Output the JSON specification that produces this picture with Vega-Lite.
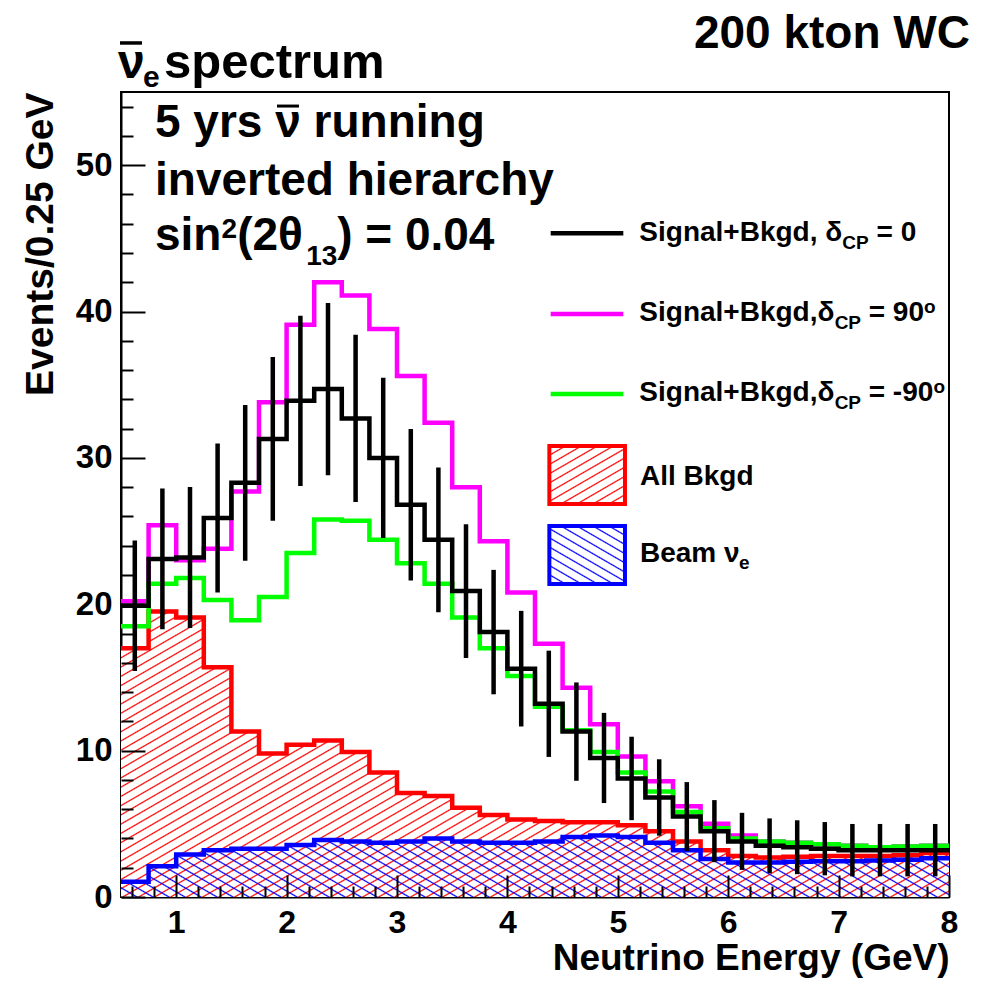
{
"$schema":"https://vega.github.io/schema/vega-lite/v6.json",
"width":828,"height":805,
"autosize":{"type":"none"},
"padding":{"left":121,"top":92,"right":39,"bottom":84},
"background":"#ffffff",
"config":{
 "view":{"stroke":"#000000","strokeWidth":2},
 "axis":{"grid":false,"domainColor":"#000000","domainWidth":2,"tickColor":"#000000","tickWidth":2,"labelFont":"Liberation Sans","labelFontWeight":"bold","labelColor":"#000000","titleFont":"Liberation Sans","titleFontWeight":"bold","titleColor":"#000000","labelOverlap":false,"labelFlush":false},
 "text":{"font":"Liberation Sans","fontWeight":"bold","color":"#000000","align":"left","baseline":"alphabetic"}
},
"resolve":{"axis":{"x":"independent","y":"independent"}},
"datasets":{
 "h":[
{"E":0.5,"s0":19.9,"s90":20.2,"sm90":18.5,"bkg":17.0,"beam":1.05},
{"E":0.75,"s0":23.1,"s90":25.4,"sm90":21.4,"bkg":19.5,"beam":2.1},
{"E":1.0,"s0":23.2,"s90":23.0,"sm90":21.8,"bkg":19.1,"beam":2.9},
{"E":1.25,"s0":25.9,"s90":23.8,"sm90":20.3,"bkg":15.7,"beam":3.2},
{"E":1.5,"s0":28.3,"s90":27.7,"sm90":18.9,"bkg":11.3,"beam":3.3},
{"E":1.75,"s0":31.3,"s90":33.8,"sm90":20.5,"bkg":9.8,"beam":3.3},
{"E":2.0,"s0":33.9,"s90":39.1,"sm90":23.5,"bkg":10.4,"beam":3.55},
{"E":2.25,"s0":34.7,"s90":42.0,"sm90":25.8,"bkg":10.7,"beam":3.9},
{"E":2.5,"s0":32.7,"s90":41.1,"sm90":25.7,"bkg":9.9,"beam":3.8},
{"E":2.75,"s0":30.0,"s90":38.8,"sm90":24.4,"bkg":8.5,"beam":3.7},
{"E":3.0,"s0":26.8,"s90":35.6,"sm90":22.8,"bkg":7.1,"beam":3.8},
{"E":3.25,"s0":24.4,"s90":32.4,"sm90":21.4,"bkg":6.9,"beam":4.0},
{"E":3.5,"s0":20.9,"s90":28.0,"sm90":19.1,"bkg":6.1,"beam":3.8},
{"E":3.75,"s0":18.1,"s90":24.3,"sm90":17.0,"bkg":5.6,"beam":3.7},
{"E":4.0,"s0":15.6,"s90":20.8,"sm90":15.1,"bkg":5.3,"beam":3.7},
{"E":4.25,"s0":13.2,"s90":17.3,"sm90":13.0,"bkg":5.2,"beam":3.8},
{"E":4.5,"s0":11.3,"s90":14.3,"sm90":11.4,"bkg":5.1,"beam":4.1},
{"E":4.75,"s0":9.5,"s90":11.8,"sm90":9.9,"bkg":5.1,"beam":4.2},
{"E":5.0,"s0":8.1,"s90":9.6,"sm90":8.5,"bkg":4.9,"beam":4.1},
{"E":5.25,"s0":6.8,"s90":7.9,"sm90":7.2,"bkg":4.5,"beam":3.7},
{"E":5.5,"s0":5.5,"s90":6.2,"sm90":5.8,"bkg":3.8,"beam":3.2},
{"E":5.75,"s0":4.5,"s90":5.0,"sm90":4.7,"bkg":3.2,"beam":2.6},
{"E":6.0,"s0":3.8,"s90":4.2,"sm90":4.0,"bkg":2.8,"beam":2.35},
{"E":6.25,"s0":3.5,"s90":3.8,"sm90":3.8,"bkg":2.7,"beam":2.35},
{"E":6.5,"s0":3.4,"s90":3.7,"sm90":3.7,"bkg":2.75,"beam":2.4},
{"E":6.75,"s0":3.3,"s90":3.6,"sm90":3.6,"bkg":2.8,"beam":2.45},
{"E":7.0,"s0":3.2,"s90":3.5,"sm90":3.5,"bkg":2.8,"beam":2.45},
{"E":7.25,"s0":3.2,"s90":3.4,"sm90":3.4,"bkg":2.8,"beam":2.5},
{"E":7.5,"s0":3.2,"s90":3.45,"sm90":3.45,"bkg":2.85,"beam":2.55},
{"E":7.75,"s0":3.2,"s90":3.5,"sm90":3.5,"bkg":3.0,"beam":2.65},
{"E":8.0,"s0":3.2,"s90":3.5,"sm90":3.5,"bkg":3.0,"beam":2.65}
 ],
 "err":[
{"Ec":0.625,"lo":15.44,"hi":24.36},{"Ec":0.875,"lo":18.29,"hi":27.91},{"Ec":1.125,"lo":18.38,"hi":28.02},{"Ec":1.375,"lo":20.81,"hi":30.99},
{"Ec":1.625,"lo":22.98,"hi":33.62},{"Ec":1.875,"lo":25.71,"hi":36.89},{"Ec":2.125,"lo":28.08,"hi":39.72},{"Ec":2.375,"lo":28.81,"hi":40.59},
{"Ec":2.625,"lo":26.98,"hi":38.42},{"Ec":2.875,"lo":24.52,"hi":35.48},{"Ec":3.125,"lo":21.62,"hi":31.98},{"Ec":3.375,"lo":19.46,"hi":29.34},
{"Ec":3.625,"lo":16.33,"hi":25.47},{"Ec":3.875,"lo":13.85,"hi":22.35},{"Ec":4.125,"lo":11.65,"hi":19.55},{"Ec":4.375,"lo":9.57,"hi":16.83},
{"Ec":4.625,"lo":7.94,"hi":14.66},{"Ec":4.875,"lo":6.42,"hi":12.58},{"Ec":5.125,"lo":5.25,"hi":10.95},{"Ec":5.375,"lo":4.19,"hi":9.41},
{"Ec":5.625,"lo":3.15,"hi":7.85},{"Ec":5.875,"lo":2.38,"hi":6.62},{"Ec":6.125,"lo":1.85,"hi":5.75},{"Ec":6.375,"lo":1.63,"hi":5.37},
{"Ec":6.625,"lo":1.56,"hi":5.24},{"Ec":6.875,"lo":1.48,"hi":5.12},{"Ec":7.125,"lo":1.41,"hi":4.99},{"Ec":7.375,"lo":1.41,"hi":4.99},
{"Ec":7.625,"lo":1.41,"hi":4.99},{"Ec":7.875,"lo":1.41,"hi":4.99}
 ],
 "one":[{}]
},
"layer":[
{"data":{"name":"h"},
 "mark":{"type":"area","interpolate":"step-after","fill":{"gradient":"linear","x1":0,"y1":0,"x2":1.4246,"y2":0.8505,"stops":[
{"offset":0,"color":"#f00"},{"offset":0.0015,"color":"#fff"},{"offset":0.0085,"color":"#fff"},
{"offset":0.01,"color":"#f00"},{"offset":0.0115,"color":"#fff"},{"offset":0.0185,"color":"#fff"},
{"offset":0.02,"color":"#f00"},{"offset":0.0215,"color":"#fff"},{"offset":0.0285,"color":"#fff"},
{"offset":0.03,"color":"#f00"},{"offset":0.0315,"color":"#fff"},{"offset":0.0385,"color":"#fff"},
{"offset":0.04,"color":"#f00"},{"offset":0.0415,"color":"#fff"},{"offset":0.0485,"color":"#fff"},
{"offset":0.05,"color":"#f00"},{"offset":0.0515,"color":"#fff"},{"offset":0.0585,"color":"#fff"},
{"offset":0.06,"color":"#f00"},{"offset":0.0615,"color":"#fff"},{"offset":0.0685,"color":"#fff"},
{"offset":0.07,"color":"#f00"},{"offset":0.0715,"color":"#fff"},{"offset":0.0785,"color":"#fff"},
{"offset":0.08,"color":"#f00"},{"offset":0.0815,"color":"#fff"},{"offset":0.0885,"color":"#fff"},
{"offset":0.09,"color":"#f00"},{"offset":0.0915,"color":"#fff"},{"offset":0.0985,"color":"#fff"},
{"offset":0.10,"color":"#f00"},{"offset":0.1015,"color":"#fff"},{"offset":0.1085,"color":"#fff"},
{"offset":0.11,"color":"#f00"},{"offset":0.1115,"color":"#fff"},{"offset":0.1185,"color":"#fff"},
{"offset":0.12,"color":"#f00"},{"offset":0.1215,"color":"#fff"},{"offset":0.1285,"color":"#fff"},
{"offset":0.13,"color":"#f00"},{"offset":0.1315,"color":"#fff"},{"offset":0.1385,"color":"#fff"},
{"offset":0.14,"color":"#f00"},{"offset":0.1415,"color":"#fff"},{"offset":0.1485,"color":"#fff"},
{"offset":0.15,"color":"#f00"},{"offset":0.1515,"color":"#fff"},{"offset":0.1585,"color":"#fff"},
{"offset":0.16,"color":"#f00"},{"offset":0.1615,"color":"#fff"},{"offset":0.1685,"color":"#fff"},
{"offset":0.17,"color":"#f00"},{"offset":0.1715,"color":"#fff"},{"offset":0.1785,"color":"#fff"},
{"offset":0.18,"color":"#f00"},{"offset":0.1815,"color":"#fff"},{"offset":0.1885,"color":"#fff"},
{"offset":0.19,"color":"#f00"},{"offset":0.1915,"color":"#fff"},{"offset":0.1985,"color":"#fff"},
{"offset":0.20,"color":"#f00"},{"offset":0.2015,"color":"#fff"},{"offset":0.2085,"color":"#fff"},
{"offset":0.21,"color":"#f00"},{"offset":0.2115,"color":"#fff"},{"offset":0.2185,"color":"#fff"},
{"offset":0.22,"color":"#f00"},{"offset":0.2215,"color":"#fff"},{"offset":0.2285,"color":"#fff"},
{"offset":0.23,"color":"#f00"},{"offset":0.2315,"color":"#fff"},{"offset":0.2385,"color":"#fff"},
{"offset":0.24,"color":"#f00"},{"offset":0.2415,"color":"#fff"},{"offset":0.2485,"color":"#fff"},
{"offset":0.25,"color":"#f00"},{"offset":0.2515,"color":"#fff"},{"offset":0.2585,"color":"#fff"},
{"offset":0.26,"color":"#f00"},{"offset":0.2615,"color":"#fff"},{"offset":0.2685,"color":"#fff"},
{"offset":0.27,"color":"#f00"},{"offset":0.2715,"color":"#fff"},{"offset":0.2785,"color":"#fff"},
{"offset":0.28,"color":"#f00"},{"offset":0.2815,"color":"#fff"},{"offset":0.2885,"color":"#fff"},
{"offset":0.29,"color":"#f00"},{"offset":0.2915,"color":"#fff"},{"offset":0.2985,"color":"#fff"},
{"offset":0.30,"color":"#f00"},{"offset":0.3015,"color":"#fff"},{"offset":0.3085,"color":"#fff"},
{"offset":0.31,"color":"#f00"},{"offset":0.3115,"color":"#fff"},{"offset":0.3185,"color":"#fff"},
{"offset":0.32,"color":"#f00"},{"offset":0.3215,"color":"#fff"},{"offset":0.3285,"color":"#fff"},
{"offset":0.33,"color":"#f00"},{"offset":0.3315,"color":"#fff"},{"offset":0.3385,"color":"#fff"},
{"offset":0.34,"color":"#f00"},{"offset":0.3415,"color":"#fff"},{"offset":0.3485,"color":"#fff"},
{"offset":0.35,"color":"#f00"},{"offset":0.3515,"color":"#fff"},{"offset":0.3585,"color":"#fff"},
{"offset":0.36,"color":"#f00"},{"offset":0.3615,"color":"#fff"},{"offset":0.3685,"color":"#fff"},
{"offset":0.37,"color":"#f00"},{"offset":0.3715,"color":"#fff"},{"offset":0.3785,"color":"#fff"},
{"offset":0.38,"color":"#f00"},{"offset":0.3815,"color":"#fff"},{"offset":0.3885,"color":"#fff"},
{"offset":0.39,"color":"#f00"},{"offset":0.3915,"color":"#fff"},{"offset":0.3985,"color":"#fff"},
{"offset":0.40,"color":"#f00"},{"offset":0.4015,"color":"#fff"},{"offset":0.4085,"color":"#fff"},
{"offset":0.41,"color":"#f00"},{"offset":0.4115,"color":"#fff"},{"offset":0.4185,"color":"#fff"},
{"offset":0.42,"color":"#f00"},{"offset":0.4215,"color":"#fff"},{"offset":0.4285,"color":"#fff"},
{"offset":0.43,"color":"#f00"},{"offset":0.4315,"color":"#fff"},{"offset":0.4385,"color":"#fff"},
{"offset":0.44,"color":"#f00"},{"offset":0.4415,"color":"#fff"},{"offset":0.4485,"color":"#fff"},
{"offset":0.45,"color":"#f00"},{"offset":0.4515,"color":"#fff"},{"offset":0.4585,"color":"#fff"},
{"offset":0.46,"color":"#f00"},{"offset":0.4615,"color":"#fff"},{"offset":0.4685,"color":"#fff"},
{"offset":0.47,"color":"#f00"},{"offset":0.4715,"color":"#fff"},{"offset":0.4785,"color":"#fff"},
{"offset":0.48,"color":"#f00"},{"offset":0.4815,"color":"#fff"},{"offset":0.4885,"color":"#fff"},
{"offset":0.49,"color":"#f00"},{"offset":0.4915,"color":"#fff"},{"offset":0.4985,"color":"#fff"},
{"offset":0.50,"color":"#f00"},{"offset":0.5015,"color":"#fff"},{"offset":0.5085,"color":"#fff"},
{"offset":0.51,"color":"#f00"},{"offset":0.5115,"color":"#fff"},{"offset":0.5185,"color":"#fff"},
{"offset":0.52,"color":"#f00"},{"offset":0.5215,"color":"#fff"},{"offset":0.5285,"color":"#fff"},
{"offset":0.53,"color":"#f00"},{"offset":0.5315,"color":"#fff"},{"offset":0.5385,"color":"#fff"},
{"offset":0.54,"color":"#f00"},{"offset":0.5415,"color":"#fff"},{"offset":0.5485,"color":"#fff"},
{"offset":0.55,"color":"#f00"},{"offset":0.5515,"color":"#fff"},{"offset":0.5585,"color":"#fff"},
{"offset":0.56,"color":"#f00"},{"offset":0.5615,"color":"#fff"},{"offset":0.5685,"color":"#fff"},
{"offset":0.57,"color":"#f00"},{"offset":0.5715,"color":"#fff"},{"offset":0.5785,"color":"#fff"},
{"offset":0.58,"color":"#f00"},{"offset":0.5815,"color":"#fff"},{"offset":0.5885,"color":"#fff"},
{"offset":0.59,"color":"#f00"},{"offset":0.5915,"color":"#fff"},{"offset":0.5985,"color":"#fff"},
{"offset":0.60,"color":"#f00"},{"offset":0.6015,"color":"#fff"},{"offset":0.6085,"color":"#fff"},
{"offset":0.61,"color":"#f00"},{"offset":0.6115,"color":"#fff"},{"offset":0.6185,"color":"#fff"},
{"offset":0.62,"color":"#f00"},{"offset":0.6215,"color":"#fff"},{"offset":0.6285,"color":"#fff"},
{"offset":0.63,"color":"#f00"},{"offset":0.6315,"color":"#fff"},{"offset":0.6385,"color":"#fff"},
{"offset":0.64,"color":"#f00"},{"offset":0.6415,"color":"#fff"},{"offset":0.6485,"color":"#fff"},
{"offset":0.65,"color":"#f00"},{"offset":0.6515,"color":"#fff"},{"offset":0.6585,"color":"#fff"},
{"offset":0.66,"color":"#f00"},{"offset":0.6615,"color":"#fff"},{"offset":0.6685,"color":"#fff"},
{"offset":0.67,"color":"#f00"},{"offset":0.6715,"color":"#fff"},{"offset":0.6785,"color":"#fff"},
{"offset":0.68,"color":"#f00"},{"offset":0.6815,"color":"#fff"},{"offset":0.6885,"color":"#fff"},
{"offset":0.69,"color":"#f00"},{"offset":0.6915,"color":"#fff"},{"offset":0.6985,"color":"#fff"},
{"offset":0.70,"color":"#f00"},{"offset":0.7015,"color":"#fff"},{"offset":0.7085,"color":"#fff"},
{"offset":0.71,"color":"#f00"},{"offset":0.7115,"color":"#fff"},{"offset":0.7185,"color":"#fff"},
{"offset":0.72,"color":"#f00"},{"offset":0.7215,"color":"#fff"},{"offset":0.7285,"color":"#fff"},
{"offset":0.73,"color":"#f00"},{"offset":0.7315,"color":"#fff"},{"offset":0.7385,"color":"#fff"},
{"offset":0.74,"color":"#f00"},{"offset":0.7415,"color":"#fff"},{"offset":0.7485,"color":"#fff"},
{"offset":0.75,"color":"#f00"},{"offset":0.7515,"color":"#fff"},{"offset":0.7585,"color":"#fff"},
{"offset":0.76,"color":"#f00"},{"offset":0.7615,"color":"#fff"},{"offset":0.7685,"color":"#fff"},
{"offset":0.77,"color":"#f00"},{"offset":0.7715,"color":"#fff"},{"offset":0.7785,"color":"#fff"},
{"offset":0.78,"color":"#f00"},{"offset":0.7815,"color":"#fff"},{"offset":0.7885,"color":"#fff"},
{"offset":0.79,"color":"#f00"},{"offset":0.7915,"color":"#fff"},{"offset":0.7985,"color":"#fff"},
{"offset":0.80,"color":"#f00"},{"offset":0.8015,"color":"#fff"},{"offset":0.8085,"color":"#fff"},
{"offset":0.81,"color":"#f00"},{"offset":0.8115,"color":"#fff"},{"offset":0.8185,"color":"#fff"},
{"offset":0.82,"color":"#f00"},{"offset":0.8215,"color":"#fff"},{"offset":0.8285,"color":"#fff"},
{"offset":0.83,"color":"#f00"},{"offset":0.8315,"color":"#fff"}
 ]}},
 "encoding":{
  "x":{"field":"E","type":"quantitative","scale":{"domain":[0.5,8],"nice":false,"zero":false},
   "axis":{"orient":"bottom","title":"Neutrino Energy (GeV)","titleFontSize":37,"titleAnchor":"end","titlePadding":2,
    "values":[1,2,3,4,5,6,7,8],"format":"d","labelFontSize":32,"labelPadding":10,"ticks":false,"tickSize":0}},
  "y":{"field":"bkg","type":"quantitative","scale":{"domain":[0,55],"nice":false,"zero":false},
   "axis":{"orient":"left","title":"Events/0.25 GeV","titleFontSize":39,"titleAnchor":"end","titlePadding":15,
    "values":[0,10,20,30,40,50],"format":"d","labelFontSize":33,"labelPadding":9,"ticks":false,"tickSize":0}}
 }},
{"data":{"name":"h"},
 "mark":{"type":"area","interpolate":"step-after","fill":{"gradient":"linear","x1":0,"y1":1,"x2":1.9009,"y2":0.75546,"stops":[
{"offset":0,"color":"#00f"},{"offset":0.0015,"color":"rgba(0,0,255,0)"},{"offset":0.0085,"color":"rgba(0,0,255,0)"},
{"offset":0.01,"color":"#00f"},{"offset":0.0115,"color":"rgba(0,0,255,0)"},{"offset":0.0185,"color":"rgba(0,0,255,0)"},
{"offset":0.02,"color":"#00f"},{"offset":0.0215,"color":"rgba(0,0,255,0)"},{"offset":0.0285,"color":"rgba(0,0,255,0)"},
{"offset":0.03,"color":"#00f"},{"offset":0.0315,"color":"rgba(0,0,255,0)"},{"offset":0.0385,"color":"rgba(0,0,255,0)"},
{"offset":0.04,"color":"#00f"},{"offset":0.0415,"color":"rgba(0,0,255,0)"},{"offset":0.0485,"color":"rgba(0,0,255,0)"},
{"offset":0.05,"color":"#00f"},{"offset":0.0515,"color":"rgba(0,0,255,0)"},{"offset":0.0585,"color":"rgba(0,0,255,0)"},
{"offset":0.06,"color":"#00f"},{"offset":0.0615,"color":"rgba(0,0,255,0)"},{"offset":0.0685,"color":"rgba(0,0,255,0)"},
{"offset":0.07,"color":"#00f"},{"offset":0.0715,"color":"rgba(0,0,255,0)"},{"offset":0.0785,"color":"rgba(0,0,255,0)"},
{"offset":0.08,"color":"#00f"},{"offset":0.0815,"color":"rgba(0,0,255,0)"},{"offset":0.0885,"color":"rgba(0,0,255,0)"},
{"offset":0.09,"color":"#00f"},{"offset":0.0915,"color":"rgba(0,0,255,0)"},{"offset":0.0985,"color":"rgba(0,0,255,0)"},
{"offset":0.10,"color":"#00f"},{"offset":0.1015,"color":"rgba(0,0,255,0)"},{"offset":0.1085,"color":"rgba(0,0,255,0)"},
{"offset":0.11,"color":"#00f"},{"offset":0.1115,"color":"rgba(0,0,255,0)"},{"offset":0.1185,"color":"rgba(0,0,255,0)"},
{"offset":0.12,"color":"#00f"},{"offset":0.1215,"color":"rgba(0,0,255,0)"},{"offset":0.1285,"color":"rgba(0,0,255,0)"},
{"offset":0.13,"color":"#00f"},{"offset":0.1315,"color":"rgba(0,0,255,0)"},{"offset":0.1385,"color":"rgba(0,0,255,0)"},
{"offset":0.14,"color":"#00f"},{"offset":0.1415,"color":"rgba(0,0,255,0)"},{"offset":0.1485,"color":"rgba(0,0,255,0)"},
{"offset":0.15,"color":"#00f"},{"offset":0.1515,"color":"rgba(0,0,255,0)"},{"offset":0.1585,"color":"rgba(0,0,255,0)"},
{"offset":0.16,"color":"#00f"},{"offset":0.1615,"color":"rgba(0,0,255,0)"},{"offset":0.1685,"color":"rgba(0,0,255,0)"},
{"offset":0.17,"color":"#00f"},{"offset":0.1715,"color":"rgba(0,0,255,0)"},{"offset":0.1785,"color":"rgba(0,0,255,0)"},
{"offset":0.18,"color":"#00f"},{"offset":0.1815,"color":"rgba(0,0,255,0)"},{"offset":0.1885,"color":"rgba(0,0,255,0)"},
{"offset":0.19,"color":"#00f"},{"offset":0.1915,"color":"rgba(0,0,255,0)"},{"offset":0.1985,"color":"rgba(0,0,255,0)"},
{"offset":0.20,"color":"#00f"},{"offset":0.2015,"color":"rgba(0,0,255,0)"},{"offset":0.2085,"color":"rgba(0,0,255,0)"},
{"offset":0.21,"color":"#00f"},{"offset":0.2115,"color":"rgba(0,0,255,0)"},{"offset":0.2185,"color":"rgba(0,0,255,0)"},
{"offset":0.22,"color":"#00f"},{"offset":0.2215,"color":"rgba(0,0,255,0)"},{"offset":0.2285,"color":"rgba(0,0,255,0)"},
{"offset":0.23,"color":"#00f"},{"offset":0.2315,"color":"rgba(0,0,255,0)"},{"offset":0.2385,"color":"rgba(0,0,255,0)"},
{"offset":0.24,"color":"#00f"},{"offset":0.2415,"color":"rgba(0,0,255,0)"},{"offset":0.2485,"color":"rgba(0,0,255,0)"},
{"offset":0.25,"color":"#00f"},{"offset":0.2515,"color":"rgba(0,0,255,0)"},{"offset":0.2585,"color":"rgba(0,0,255,0)"},
{"offset":0.26,"color":"#00f"},{"offset":0.2615,"color":"rgba(0,0,255,0)"},{"offset":0.2685,"color":"rgba(0,0,255,0)"},
{"offset":0.27,"color":"#00f"},{"offset":0.2715,"color":"rgba(0,0,255,0)"},{"offset":0.2785,"color":"rgba(0,0,255,0)"},
{"offset":0.28,"color":"#00f"},{"offset":0.2815,"color":"rgba(0,0,255,0)"},{"offset":0.2885,"color":"rgba(0,0,255,0)"},
{"offset":0.29,"color":"#00f"},{"offset":0.2915,"color":"rgba(0,0,255,0)"},{"offset":0.2985,"color":"rgba(0,0,255,0)"},
{"offset":0.30,"color":"#00f"},{"offset":0.3015,"color":"rgba(0,0,255,0)"},{"offset":0.3085,"color":"rgba(0,0,255,0)"},
{"offset":0.31,"color":"#00f"},{"offset":0.3115,"color":"rgba(0,0,255,0)"},{"offset":0.3185,"color":"rgba(0,0,255,0)"},
{"offset":0.32,"color":"#00f"},{"offset":0.3215,"color":"rgba(0,0,255,0)"},{"offset":0.3285,"color":"rgba(0,0,255,0)"},
{"offset":0.33,"color":"#00f"},{"offset":0.3315,"color":"rgba(0,0,255,0)"},{"offset":0.3385,"color":"rgba(0,0,255,0)"},
{"offset":0.34,"color":"#00f"},{"offset":0.3415,"color":"rgba(0,0,255,0)"},{"offset":0.3485,"color":"rgba(0,0,255,0)"},
{"offset":0.35,"color":"#00f"},{"offset":0.3515,"color":"rgba(0,0,255,0)"},{"offset":0.3585,"color":"rgba(0,0,255,0)"},
{"offset":0.36,"color":"#00f"},{"offset":0.3615,"color":"rgba(0,0,255,0)"},{"offset":0.3685,"color":"rgba(0,0,255,0)"},
{"offset":0.37,"color":"#00f"},{"offset":0.3715,"color":"rgba(0,0,255,0)"},{"offset":0.3785,"color":"rgba(0,0,255,0)"},
{"offset":0.38,"color":"#00f"},{"offset":0.3815,"color":"rgba(0,0,255,0)"},{"offset":0.3885,"color":"rgba(0,0,255,0)"},
{"offset":0.39,"color":"#00f"},{"offset":0.3915,"color":"rgba(0,0,255,0)"},{"offset":0.3985,"color":"rgba(0,0,255,0)"},
{"offset":0.40,"color":"#00f"},{"offset":0.4015,"color":"rgba(0,0,255,0)"},{"offset":0.4085,"color":"rgba(0,0,255,0)"},
{"offset":0.41,"color":"#00f"},{"offset":0.4115,"color":"rgba(0,0,255,0)"},{"offset":0.4185,"color":"rgba(0,0,255,0)"},
{"offset":0.42,"color":"#00f"},{"offset":0.4215,"color":"rgba(0,0,255,0)"},{"offset":0.4285,"color":"rgba(0,0,255,0)"},
{"offset":0.43,"color":"#00f"},{"offset":0.4315,"color":"rgba(0,0,255,0)"},{"offset":0.4385,"color":"rgba(0,0,255,0)"},
{"offset":0.44,"color":"#00f"},{"offset":0.4415,"color":"rgba(0,0,255,0)"},{"offset":0.4485,"color":"rgba(0,0,255,0)"},
{"offset":0.45,"color":"#00f"},{"offset":0.4515,"color":"rgba(0,0,255,0)"},{"offset":0.4585,"color":"rgba(0,0,255,0)"},
{"offset":0.46,"color":"#00f"},{"offset":0.4615,"color":"rgba(0,0,255,0)"},{"offset":0.4685,"color":"rgba(0,0,255,0)"},
{"offset":0.47,"color":"#00f"},{"offset":0.4715,"color":"rgba(0,0,255,0)"},{"offset":0.4785,"color":"rgba(0,0,255,0)"},
{"offset":0.48,"color":"#00f"},{"offset":0.4815,"color":"rgba(0,0,255,0)"},{"offset":0.4885,"color":"rgba(0,0,255,0)"},
{"offset":0.49,"color":"#00f"},{"offset":0.4915,"color":"rgba(0,0,255,0)"},{"offset":0.4985,"color":"rgba(0,0,255,0)"},
{"offset":0.50,"color":"#00f"},{"offset":0.5015,"color":"rgba(0,0,255,0)"},{"offset":0.5085,"color":"rgba(0,0,255,0)"},
{"offset":0.51,"color":"#00f"},{"offset":0.5115,"color":"rgba(0,0,255,0)"},{"offset":0.5185,"color":"rgba(0,0,255,0)"},
{"offset":0.52,"color":"#00f"},{"offset":0.5215,"color":"rgba(0,0,255,0)"},{"offset":0.5285,"color":"rgba(0,0,255,0)"},
{"offset":0.53,"color":"#00f"},{"offset":0.5315,"color":"rgba(0,0,255,0)"},{"offset":0.5385,"color":"rgba(0,0,255,0)"},
{"offset":0.54,"color":"#00f"},{"offset":0.5415,"color":"rgba(0,0,255,0)"},{"offset":0.5485,"color":"rgba(0,0,255,0)"},
{"offset":0.55,"color":"#00f"},{"offset":0.5515,"color":"rgba(0,0,255,0)"},{"offset":0.5585,"color":"rgba(0,0,255,0)"},
{"offset":0.56,"color":"#00f"},{"offset":0.5615,"color":"rgba(0,0,255,0)"},{"offset":0.5685,"color":"rgba(0,0,255,0)"},
{"offset":0.57,"color":"#00f"},{"offset":0.5715,"color":"rgba(0,0,255,0)"},{"offset":0.5785,"color":"rgba(0,0,255,0)"},
{"offset":0.58,"color":"#00f"},{"offset":0.5815,"color":"rgba(0,0,255,0)"}
 ]}},
 "encoding":{
  "x":{"field":"E","type":"quantitative","axis":{"orient":"bottom","values":[1,2,3,4,5,6,7,8],"labels":false,"domain":false,"title":null,"tickSize":-22,"zindex":1}},
  "y":{"field":"beam","type":"quantitative","axis":{"orient":"left","values":[0,10,20,30,40,50],"labels":false,"domain":false,"title":null,"tickSize":-24,"zindex":1}}}},
{"data":{"name":"h"},"mark":{"type":"line","interpolate":"step-after","color":"#ff0000","strokeWidth":4.5},
 "encoding":{
  "x":{"field":"E","type":"quantitative","axis":{"orient":"bottom","values":[0.6,0.8,1.2,1.4,1.6,1.8,2.2,2.4,2.6,2.8,3.2,3.4,3.6,3.8,4.2,4.4,4.6,4.8,5.2,5.4,5.6,5.8,6.2,6.4,6.6,6.8,7.2,7.4,7.6,7.8],"labels":false,"domain":false,"title":null,"tickSize":-11,"zindex":1}},
  "y":{"field":"bkg","type":"quantitative","axis":{"orient":"left","values":[2,4,6,8,12,14,16,18,22,24,26,28,32,34,36,38,42,44,46,48,52,54],"labels":false,"domain":false,"title":null,"tickSize":-12,"zindex":1}}}},
{"data":{"name":"h"},"mark":{"type":"line","interpolate":"step-after","color":"#0000ff","strokeWidth":4.5},
 "encoding":{"x":{"field":"E","type":"quantitative","axis":null},"y":{"field":"beam","type":"quantitative","axis":null}}},
{"data":{"name":"h"},"mark":{"type":"line","interpolate":"step-after","color":"#ff00ff","strokeWidth":4.5},
 "encoding":{"x":{"field":"E","type":"quantitative","axis":null},"y":{"field":"s90","type":"quantitative","axis":null}}},
{"data":{"name":"h"},"mark":{"type":"line","interpolate":"step-after","color":"#00ff00","strokeWidth":4.5},
 "encoding":{"x":{"field":"E","type":"quantitative","axis":null},"y":{"field":"sm90","type":"quantitative","axis":null}}},
{"data":{"name":"h"},"mark":{"type":"line","interpolate":"step-after","color":"#000000","strokeWidth":4.5},
 "encoding":{"x":{"field":"E","type":"quantitative","axis":null},"y":{"field":"s0","type":"quantitative","axis":null}}},
{"data":{"name":"err"},"mark":{"type":"rule","color":"#000000","strokeWidth":4.5},
 "encoding":{"x":{"field":"Ec","type":"quantitative","axis":null},"y":{"field":"lo","type":"quantitative","axis":null},"y2":{"field":"hi"}}},
{"data":{"name":"one"},"mark":{"type":"rule","color":"#000000","strokeWidth":4.5},
 "encoding":{"x":{"datum":4.392,"type":"quantitative","axis":null},"x2":{"datum":5.05},"y":{"datum":45.35,"type":"quantitative","axis":null}}},
{"data":{"name":"one"},"mark":{"type":"rule","color":"#ff00ff","strokeWidth":4.5},
 "encoding":{"x":{"datum":4.392,"type":"quantitative","axis":null},"x2":{"datum":5.05},"y":{"datum":39.83,"type":"quantitative","axis":null}}},
{"data":{"name":"one"},"mark":{"type":"rule","color":"#00ff00","strokeWidth":4.5},
 "encoding":{"x":{"datum":4.392,"type":"quantitative","axis":null},"x2":{"datum":5.05},"y":{"datum":34.37,"type":"quantitative","axis":null}}},
{"data":{"name":"one"},"mark":{"type":"rect","stroke":"#ff0000","strokeWidth":4,"fill":{"gradient":"linear","x1":0,"y1":0,"x2":7.655,"y2":10.159,"stops":[
{"offset":0,"color":"#f00"},{"offset":0.0015,"color":"#fff"},{"offset":0.0085,"color":"#fff"},
{"offset":0.01,"color":"#f00"},{"offset":0.0115,"color":"#fff"},{"offset":0.0185,"color":"#fff"},
{"offset":0.02,"color":"#f00"},{"offset":0.0215,"color":"#fff"},{"offset":0.0285,"color":"#fff"},
{"offset":0.03,"color":"#f00"},{"offset":0.0315,"color":"#fff"},{"offset":0.0385,"color":"#fff"},
{"offset":0.04,"color":"#f00"},{"offset":0.0415,"color":"#fff"},{"offset":0.0485,"color":"#fff"},
{"offset":0.05,"color":"#f00"},{"offset":0.0515,"color":"#fff"},{"offset":0.0585,"color":"#fff"},
{"offset":0.06,"color":"#f00"},{"offset":0.0615,"color":"#fff"},{"offset":0.0685,"color":"#fff"},
{"offset":0.07,"color":"#f00"},{"offset":0.0715,"color":"#fff"},{"offset":0.0785,"color":"#fff"},
{"offset":0.08,"color":"#f00"},{"offset":0.0815,"color":"#fff"},{"offset":0.0885,"color":"#fff"},
{"offset":0.09,"color":"#f00"},{"offset":0.0915,"color":"#fff"},{"offset":0.0985,"color":"#fff"},
{"offset":0.10,"color":"#f00"},{"offset":0.1015,"color":"#fff"},{"offset":0.1085,"color":"#fff"},
{"offset":0.11,"color":"#f00"},{"offset":0.1115,"color":"#fff"}
 ]}},
 "encoding":{"x":{"datum":4.38,"type":"quantitative","axis":null},"x2":{"datum":5.065},"y":{"datum":30.81,"type":"quantitative","axis":null},"y2":{"datum":26.85}}},
{"data":{"name":"one"},"mark":{"type":"rect","stroke":"#0000ff","strokeWidth":4,"fill":{"gradient":"linear","x1":0,"y1":1,"x2":7.655,"y2":-9.159,"stops":[
{"offset":0,"color":"#00f"},{"offset":0.0015,"color":"#fff"},{"offset":0.0085,"color":"#fff"},
{"offset":0.01,"color":"#00f"},{"offset":0.0115,"color":"#fff"},{"offset":0.0185,"color":"#fff"},
{"offset":0.02,"color":"#00f"},{"offset":0.0215,"color":"#fff"},{"offset":0.0285,"color":"#fff"},
{"offset":0.03,"color":"#00f"},{"offset":0.0315,"color":"#fff"},{"offset":0.0385,"color":"#fff"},
{"offset":0.04,"color":"#00f"},{"offset":0.0415,"color":"#fff"},{"offset":0.0485,"color":"#fff"},
{"offset":0.05,"color":"#00f"},{"offset":0.0515,"color":"#fff"},{"offset":0.0585,"color":"#fff"},
{"offset":0.06,"color":"#00f"},{"offset":0.0615,"color":"#fff"},{"offset":0.0685,"color":"#fff"},
{"offset":0.07,"color":"#00f"},{"offset":0.0715,"color":"#fff"},{"offset":0.0785,"color":"#fff"},
{"offset":0.08,"color":"#00f"},{"offset":0.0815,"color":"#fff"},{"offset":0.0885,"color":"#fff"},
{"offset":0.09,"color":"#00f"},{"offset":0.0915,"color":"#fff"},{"offset":0.0985,"color":"#fff"},
{"offset":0.10,"color":"#00f"},{"offset":0.1015,"color":"#fff"},{"offset":0.1085,"color":"#fff"},
{"offset":0.11,"color":"#00f"},{"offset":0.1115,"color":"#fff"}
 ]}},
 "encoding":{"x":{"datum":4.38,"type":"quantitative","axis":null},"x2":{"datum":5.065},"y":{"datum":25.35,"type":"quantitative","axis":null},"y2":{"datum":21.39}}},
{"data":{"name":"one"},"mark":{"type":"rule","color":"#000000","strokeWidth":3.5},
 "encoding":{"x":{"datum":0.491,"type":"quantitative","axis":null},"x2":{"datum":0.69},"y":{"datum":58.35,"type":"quantitative","axis":null}}},
{"data":{"name":"one"},"mark":{"type":"rule","color":"#000000","strokeWidth":3},
 "encoding":{"x":{"datum":1.913,"type":"quantitative","axis":null},"x2":{"datum":2.112},"y":{"datum":54.04,"type":"quantitative","axis":null}}},
{"data":{"name":"one"},"mark":{"type":"text","text":"\u03bd","fontSize":48},"encoding":{"x":{"datum":0.473,"type":"quantitative","axis":null},"y":{"datum":55.96,"type":"quantitative","axis":null}}},
{"data":{"name":"one"},"mark":{"type":"text","text":"e","fontSize":30},"encoding":{"x":{"datum":0.699,"type":"quantitative","axis":null},"y":{"datum":55.34,"type":"quantitative","axis":null}}},
{"data":{"name":"one"},"mark":{"type":"text","text":"spectrum","fontSize":49},"encoding":{"x":{"datum":0.889,"type":"quantitative","axis":null},"y":{"datum":55.96,"type":"quantitative","axis":null}}},
{"data":{"name":"one"},"mark":{"type":"text","text":"200 kton WC","fontSize":46,"align":"right"},"encoding":{"x":{"datum":8.19,"type":"quantitative","axis":null},"y":{"datum":58.01,"type":"quantitative","axis":null}}},
{"data":{"name":"one"},"mark":{"type":"text","text":"5 yrs \u03bd running","fontSize":46},"encoding":{"x":{"datum":0.808,"type":"quantitative","axis":null},"y":{"datum":51.95,"type":"quantitative","axis":null}}},
{"data":{"name":"one"},"mark":{"type":"text","text":"inverted hierarchy","fontSize":46},"encoding":{"x":{"datum":0.808,"type":"quantitative","axis":null},"y":{"datum":47.96,"type":"quantitative","axis":null}}},
{"data":{"name":"one"},"mark":{"type":"text","text":"sin","fontSize":46},"encoding":{"x":{"datum":0.808,"type":"quantitative","axis":null},"y":{"datum":44.21,"type":"quantitative","axis":null}}},
{"data":{"name":"one"},"mark":{"type":"text","text":"2","fontSize":28},"encoding":{"x":{"datum":1.41,"type":"quantitative","axis":null},"y":{"datum":45.0,"type":"quantitative","axis":null}}},
{"data":{"name":"one"},"mark":{"type":"text","text":"(2\u03b8","fontSize":46},"encoding":{"x":{"datum":1.552,"type":"quantitative","axis":null},"y":{"datum":44.21,"type":"quantitative","axis":null}}},
{"data":{"name":"one"},"mark":{"type":"text","text":"13","fontSize":28},"encoding":{"x":{"datum":2.177,"type":"quantitative","axis":null},"y":{"datum":43.18,"type":"quantitative","axis":null}}},
{"data":{"name":"one"},"mark":{"type":"text","text":") = 0.04","fontSize":46},"encoding":{"x":{"datum":2.458,"type":"quantitative","axis":null},"y":{"datum":44.21,"type":"quantitative","axis":null}}},
{"data":{"name":"one"},"mark":{"type":"text","text":"Signal+Bkgd, \u03b4","fontSize":28},"encoding":{"x":{"datum":5.195,"type":"quantitative","axis":null},"y":{"datum":44.84,"type":"quantitative","axis":null}}},
{"data":{"name":"one"},"mark":{"type":"text","text":"CP","fontSize":19},"encoding":{"x":{"datum":7.034,"type":"quantitative","axis":null},"y":{"datum":44.27,"type":"quantitative","axis":null}}},
{"data":{"name":"one"},"mark":{"type":"text","text":"= 0","fontSize":28},"encoding":{"x":{"datum":7.344,"type":"quantitative","axis":null},"y":{"datum":44.84,"type":"quantitative","axis":null}}},
{"data":{"name":"one"},"mark":{"type":"text","text":"Signal+Bkgd,\u03b4","fontSize":28},"encoding":{"x":{"datum":5.195,"type":"quantitative","axis":null},"y":{"datum":39.37,"type":"quantitative","axis":null}}},
{"data":{"name":"one"},"mark":{"type":"text","text":"CP","fontSize":19},"encoding":{"x":{"datum":6.964,"type":"quantitative","axis":null},"y":{"datum":38.81,"type":"quantitative","axis":null}}},
{"data":{"name":"one"},"mark":{"type":"text","text":"= 90","fontSize":28},"encoding":{"x":{"datum":7.273,"type":"quantitative","axis":null},"y":{"datum":39.37,"type":"quantitative","axis":null}}},
{"data":{"name":"one"},"mark":{"type":"text","text":"o","fontSize":19},"encoding":{"x":{"datum":7.774,"type":"quantitative","axis":null},"y":{"datum":39.9,"type":"quantitative","axis":null}}},
{"data":{"name":"one"},"mark":{"type":"text","text":"Signal+Bkgd,\u03b4","fontSize":28},"encoding":{"x":{"datum":5.195,"type":"quantitative","axis":null},"y":{"datum":33.91,"type":"quantitative","axis":null}}},
{"data":{"name":"one"},"mark":{"type":"text","text":"CP","fontSize":19},"encoding":{"x":{"datum":6.964,"type":"quantitative","axis":null},"y":{"datum":33.34,"type":"quantitative","axis":null}}},
{"data":{"name":"one"},"mark":{"type":"text","text":"= -90","fontSize":28},"encoding":{"x":{"datum":7.273,"type":"quantitative","axis":null},"y":{"datum":33.91,"type":"quantitative","axis":null}}},
{"data":{"name":"one"},"mark":{"type":"text","text":"o","fontSize":19},"encoding":{"x":{"datum":7.859,"type":"quantitative","axis":null},"y":{"datum":34.44,"type":"quantitative","axis":null}}},
{"data":{"name":"one"},"mark":{"type":"text","text":"All Bkgd","fontSize":28},"encoding":{"x":{"datum":5.201,"type":"quantitative","axis":null},"y":{"datum":28.15,"type":"quantitative","axis":null}}},
{"data":{"name":"one"},"mark":{"type":"text","text":"Beam \u03bd","fontSize":28},"encoding":{"x":{"datum":5.201,"type":"quantitative","axis":null},"y":{"datum":22.91,"type":"quantitative","axis":null}}},
{"data":{"name":"one"},"mark":{"type":"text","text":"e","fontSize":19},"encoding":{"x":{"datum":6.098,"type":"quantitative","axis":null},"y":{"datum":22.41,"type":"quantitative","axis":null}}}
]
}
